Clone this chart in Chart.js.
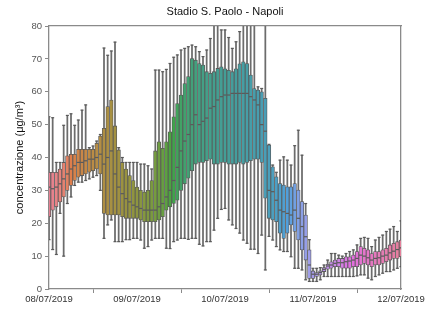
<!DOCTYPE html>
<html>
<head>
<meta charset="utf-8">
<script src="https://cdn.jsdelivr.net/npm/chart.js@4.4.1/dist/chart.umd.min.js"></script>
<style>
html,body{margin:0;padding:0;background:#fff;}
#wrap{width:427px;height:309px;position:relative;}
</style>
</head>
<body>
<div id="wrap"><canvas id="c" width="427" height="309"></canvas></div>
<script>
// ---- Data (hourly boxes, 08/07/2019 00:00 .. 12/07/2019 00:00) ----
const dateLabels = ['08/07/2019', '09/07/2019', '10/07/2019', '11/07/2019', '12/07/2019'];
const titleText = 'Stadio S. Paolo - Napoli';
const yLabel = 'concentrazione (\u03bcg/m\u00b3)';

const whiskerLow = [
  15,12,10.5,23,10,26,28,31.5,32.5,32.5,33,33.5,34,34.5,30,15.4,19.5,21,14.4,14.4,14.4,15,15,15.4,
  15.4,14.9,12.4,12.9,14.9,15.4,15.4,15.4,12.4,12.3,14.4,14.9,15.4,15.4,15.1,15.4,15.4,13.6,13.1,14.4,14.4,17.9,21.5,24.2,
  24.5,21,19.5,18.4,17,14.9,13.9,12.1,12.1,10.8,16.4,5.8,16,14.9,12.9,11.9,11.4,11.4,9.8,6.3,6.3,5.8,2.8,2.3,
  2.3,2.3,2.8,3.8,3.8,3.8,3.8,3.8,3.8,3.8,3.8,3.8,4.0,4.3,4.3,3.3,2.8,3.8,4.3,4.8,5.3,5.3,5.8,6.3,6.8
];
const quart1 = [
  22,24,25,26.5,28,30,31.5,33,34,34.5,35,35.5,36,36.5,35,23,22.5,22.5,22.5,22.5,22,21.5,21.5,21.5,
  21.5,21,20.5,20.5,20.5,20.5,21,22,24,25,26,27,30,32,33.7,36,38,38.5,38.5,39,39.5,38,38,38.5,
  38.5,38,38,38,38.5,38,38.5,39,39.5,39.5,38.5,27.6,21.5,21,20.5,17,15.4,17,19.5,17.5,14.9,11.9,8.8,3.2,
  3.2,3.8,4.3,5.3,6.0,6.3,6.8,6.8,6.3,6.3,6.3,6.8,6.8,7.3,7.8,7.3,6.8,7.3,7.3,7.8,8.3,8.8,9.3,9.3,9.8
];
const medians = [
  31,30.5,31,32,33.5,35,36.5,37.5,38.5,38.5,39,39.5,39.5,40,41,38,40,42,35,31,29,27.5,26.5,25.5,
  25,24.5,24,24,24,24,25,26,28,30,33,37,42,45,47,50,53,50,51,52,55,55.5,57.5,58.5,
  59,59,59.5,59.5,59.5,59.5,59.5,58.5,57.5,56,50,48,30,29.6,27,24,23.5,23,22.5,24,21.5,19,15.9,7.3,
  4.5,4.5,5.0,6.0,7.0,7.3,7.8,8.0,8.0,8.3,8.5,8.8,9.3,10.3,10.0,9.5,8.8,9.3,9.5,10.0,10.3,11.0,11.5,12.0,12.5
];
const quart3 = [
  35.5,35.5,35.5,36.5,38.5,40.5,41,41,42.5,42.5,42.5,42.5,42.5,44.3,46.5,48.9,55.5,57.5,49.6,42.3,38.5,36.5,34.5,33,
  31,30,29.5,30,33,42,44.8,42.8,44.8,47.8,52.4,56.4,59,62.5,64.6,70.1,69.6,68.6,68.1,66.1,65.6,66.1,67.1,67.6,
  67,66.5,66.1,67,68.5,69.1,68.6,65.1,61,60.5,60,58,43.8,37.2,34.1,32.1,31.6,31.1,31.1,32.1,30.1,26.6,22.5,11.9,
  5.5,5.0,5.5,6.5,7.5,8.3,8.8,9.3,9.3,9.8,9.8,10.3,11.4,12.9,12.4,11.9,10.8,11.4,11.4,11.9,12.4,13.4,13.9,14.4,14.9
];
const whiskerHigh = [
  52.4,52.1,38.5,38.5,49.8,52.8,53.3,49.8,51.4,54.4,56,43,43.5,45,47,73.3,71.1,72.4,75.1,43,40,38.5,38.5,38.5,
  38.5,38,38,37.5,36.5,66.6,66.6,66.1,66.8,68.6,70.5,71.2,72.7,73.2,73.7,74.2,73.7,72.2,70.7,72.7,76.2,85,85,78.8,
  78.8,76.5,73.2,75.2,78.3,85,85,85,85,61.5,61,85,44,37.7,35.5,39.2,40.2,39.2,37.7,43.6,48.3,40.7,26,15,
  6.3,6.3,6.5,7.3,8.8,10.8,10.8,10.3,10.0,10.8,11.4,11.9,13.4,15.4,15.7,15.4,12.9,14.9,15.7,16.4,17.5,18.2,19.0,17.5,20.7
];
const yTicks = [0, 10, 20, 30, 40, 50, 60, 70, 80];

// ---- HUSL palette (seaborn style) ----
const M = [[3.240969941904521,-1.537383177570093,-0.498610760293],
           [-0.96924363628087,1.87596750150772,0.041555057407175],
           [0.055630079696993,-0.20397695888897,1.056971514242878]];
const refU = 0.19783000664283, refV = 0.46831999493879, kappa = 903.2962962, epsilon = 0.0088564516;
function getBounds(L){
  const res=[]; const sub1=Math.pow(L+16,3)/1560896; const sub2=sub1>epsilon?sub1:L/kappa;
  for(let c=0;c<3;c++){const m1=M[c][0],m2=M[c][1],m3=M[c][2];
    for(let t=0;t<2;t++){const top1=(284517*m1-94839*m3)*sub2;
      const top2=(838422*m3+769860*m2+731718*m1)*L*sub2-769860*t*L;
      const bottom=(632260*m3-126452*m2)*sub2+126452*t; res.push([top1/bottom,top2/bottom]);}}
  return res;
}
function maxChroma(L,H){const hr=H/360*2*Math.PI;let mn=Infinity;
  for(const [m,b] of getBounds(L)){const len=b/(Math.sin(hr)-m*Math.cos(hr)); if(len>=0) mn=Math.min(mn,len);} return mn;}
function huslToRgb(H,S,L){
  const C = L>99.9999999?0:maxChroma(L,H)/100*S;
  const hr=H/360*2*Math.PI; const U=C*Math.cos(hr), V=C*Math.sin(hr);
  if(L===0) return [0,0,0];
  const vu=U/(13*L)+refU, vv=V/(13*L)+refV;
  const Y = L<=8 ? L/kappa : Math.pow((L+16)/116,3);
  const X = 0-(9*Y*vu)/((vu-4)*vv-vu*vv);
  const Z = (9*Y-15*vv*Y-vv*X)/(3*vv);
  return M.map(r=>{let c=r[0]*X+r[1]*Y+r[2]*Z; c = c<=0.0031308?12.92*c:1.055*Math.pow(c,1/2.4)-0.055; return Math.min(1,Math.max(0,c));});
}
function rgbToHls(r,g,b){const mx=Math.max(r,g,b),mn=Math.min(r,g,b);const l=(mx+mn)/2;if(mx===mn)return[0,l,0];
  const d=mx-mn;const s=l<=0.5?d/(mx+mn):d/(2-mx-mn);let h;
  if(mx===r)h=((g-b)/d)%6; else if(mx===g)h=(b-r)/d+2; else h=(r-g)/d+4; h/=6; if(h<0)h+=1; return [h,l,s];}
function hlsToRgb(h,l,s){if(s===0)return[l,l,l];const m2=l<=0.5?l*(1+s):l+s-l*s;const m1=2*l-m2;
  const f=(hh)=>{hh=((hh%1)+1)%1; if(hh<1/6)return m1+(m2-m1)*hh*6; if(hh<0.5)return m2; if(hh<2/3)return m1+(m2-m1)*(2/3-hh)*6; return m1;};
  return [f(h+1/3),f(h),f(h-1/3)];}
const n = quart1.length;
const boxColors = [];
for(let i=0;i<n;i++){
  let hue = (i/n + 0.01) % 1; hue *= 359;
  const rgb = huslToRgb(hue, 0.9*99, 0.65*99);
  const [h,l,s] = rgbToHls(...rgb);
  const d = hlsToRgb(h,l,s*0.75);
  boxColors.push('rgb('+d.map(v=>Math.round(v*255)).join(',')+')');
}
const gray = '#5a5a5a';
const whiskGray = '#6c6c6c';

const idx = quart1.map((_, i) => i);
const boxData = idx.map(i => ({x: i, y: [quart1[i], quart3[i]]}));
const whiskData = idx.map(i => ({x: i, y: [whiskerLow[i], whiskerHigh[i]]}));
const medData = idx.map(i => ({x: i, y: medians[i]}));
const capData = idx.map(i => ({x: i, y: whiskerLow[i]})).concat(idx.map(i => ({x: i, y: whiskerHigh[i]})));

const frameColor = '#8a8a8a';
const sans = "'Liberation Sans', Arial, sans-serif";

new Chart(document.getElementById('c'), {
  type: 'bar',
  data: {
    datasets: [
      {type:'line', data: medData, showLine:false, pointStyle:'line', pointRadius:1.7, pointHoverRadius:1.7,
       borderColor: gray, pointBorderWidth:1.2, clip:0, order:0},
      {type:'line', data: capData, showLine:false, pointStyle:'line', pointRadius:1.5, pointHoverRadius:1.5,
       borderColor: gray, pointBorderWidth:1.2, clip:0, order:1},
      {type:'bar', data: boxData, backgroundColor: boxColors, borderColor: gray, borderWidth: 0.8,
       borderSkipped:false, barThickness: 3.6, grouped:false, clip:0, order:2},
      {type:'bar', data: whiskData, backgroundColor: whiskGray, borderWidth: 0,
       barThickness: 1.1, grouped:false, clip:0, order:3}
    ]
  },
  options: {
    responsive: true, maintainAspectRatio: false, devicePixelRatio: 1, animation: false,
    layout: {padding: 0},
    plugins: {legend:{display:false}, tooltip:{enabled:false}, title:{display:false}},
    scales: {
      x: {type:'linear', position:'bottom', min:0, max:96, offset:false,
          afterBuildTicks: s => { s.ticks = dateLabels.map((_, k) => ({value: k*24})); },
          afterFit: s => { s.height = 20; },
          ticks: {callback: v => dateLabels[v/24], maxRotation:0, autoSkip:false, padding:1,
                  color:'#333', font:{family:sans, size:9.5}},
          grid: {display:true, drawOnChartArea:false, drawTicks:true, tickLength:4, color:frameColor, lineWidth:1},
          border: {display:true, color:frameColor, width:1.3}},
      x2: {type:'linear', position:'top', min:0, max:96, display:true,
           afterFit: s => { s.height = 26; },
           ticks:{display:false}, grid:{display:false},
           border:{display:true, color:frameColor, width:1.3},
           title:{display:true, text:titleText, color:'#111', padding:{top:5,bottom:0}, font:{family:sans, size:11}}},
      y: {type:'linear', position:'left', min:0, max:80,
          afterBuildTicks: s => { s.ticks = yTicks.map(v => ({value: v})); },
          afterFit: s => { s.width = 49; },
          ticks: {padding:3, color:'#555', font:{family:sans, size:9.5}},
          grid: {display:true, drawOnChartArea:false, drawTicks:true, tickLength:4, color:frameColor, lineWidth:1},
          border: {display:true, color:frameColor, width:1.3},
          title: {display:true, text:yLabel, color:'#111', padding:{top:13,bottom:0}, font:{family:sans, size:11}}},
      y2: {type:'linear', position:'right', min:0, max:80, display:true,
           afterFit: s => { s.width = 26; },
           ticks:{display:false}, grid:{display:false},
           border:{display:true, color:frameColor, width:1.3}}
    }
  }
});
</script>
</body>
</html>
